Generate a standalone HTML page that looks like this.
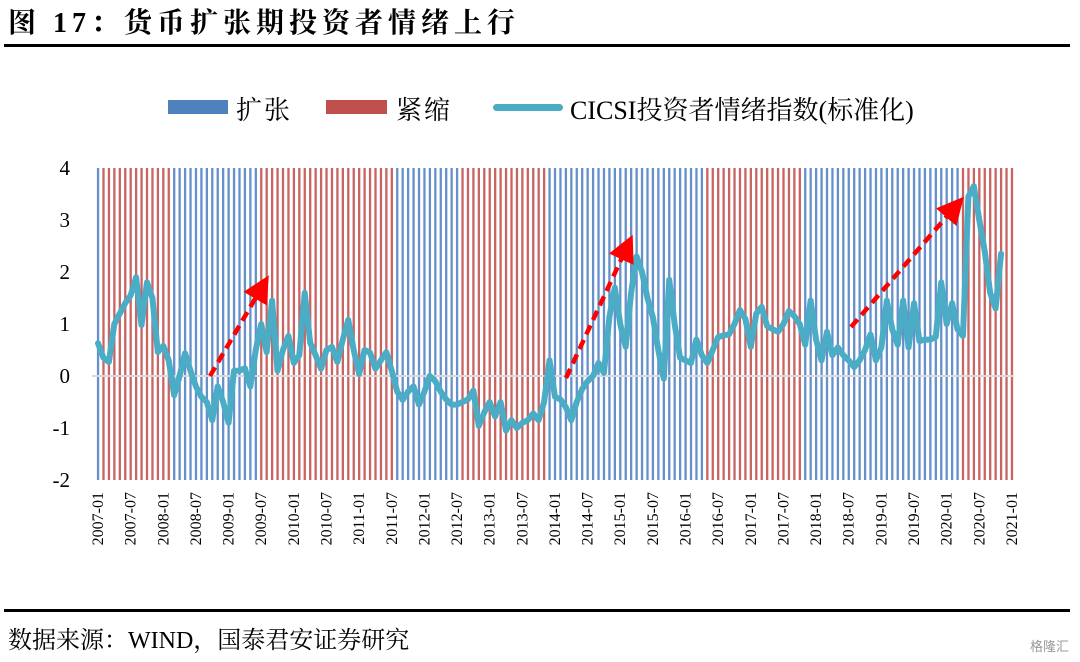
<!DOCTYPE html>
<html><head><meta charset="utf-8"><style>
body{margin:0;width:1080px;height:662px;background:#fff;overflow:hidden;position:relative;font-family:"Liberation Serif","Noto Serif CJK SC",serif;}
.abs{position:absolute;white-space:nowrap;}
</style></head><body>
<div class="abs" style="left:8px;top:1px;font-size:28px;font-weight:bold;letter-spacing:5px;">图 17：货币扩张期投资者情绪上行</div>
<div class="abs" style="left:4px;top:44px;width:1066px;height:3px;background:#000;"></div>
<div class="abs" style="left:168px;top:100px;width:60px;height:14px;background:#4f81bd;"></div>
<div class="abs" style="left:236px;top:90px;font-size:26px;letter-spacing:2px;">扩张</div>
<div class="abs" style="left:326px;top:100px;width:61px;height:14px;background:#c0504d;"></div>
<div class="abs" style="left:396px;top:90px;font-size:26px;letter-spacing:2px;">紧缩</div>
<div class="abs" style="left:493px;top:104px;width:70px;height:7px;border-radius:4px;background:#4bacc6;"></div>
<div class="abs" style="left:570px;top:90px;font-size:26px;">CICSI投资者情绪指数(标准化)</div>
<svg id="chart" class="abs" style="left:0;top:0" width="1080" height="600"></svg>
<div class="abs" style="left:4px;top:609px;width:1066px;height:3px;background:#000;"></div>
<div class="abs" style="left:8px;top:620px;font-size:24px;">数据来源：WIND，国泰君安证券研究</div>
<div class="abs" style="left:1030px;top:636px;font-size:13px;color:#999;font-family:'Liberation Sans','Noto Sans CJK SC',sans-serif;">格隆汇</div>
<script>
const cicsi=[0.63,0.35,0.27,1.0,1.2,1.4,1.55,1.9,0.98,1.8,1.5,0.46,0.58,0.3,-0.37,0.0,0.44,0.1,-0.2,-0.4,-0.5,-0.85,-0.2,-0.5,-0.9,0.1,0.1,0.15,-0.2,0.5,1.0,0.46,1.45,0.1,0.5,0.77,0.25,0.4,1.6,0.64,0.4,0.14,0.5,0.56,0.27,0.7,1.08,0.5,0.04,0.5,0.45,0.14,0.3,0.46,0.1,-0.3,-0.46,-0.3,-0.2,-0.55,-0.3,0.0,-0.1,-0.3,-0.45,-0.55,-0.55,-0.5,-0.45,-0.28,-0.96,-0.7,-0.5,-0.78,-0.5,-1.05,-0.85,-1.0,-0.9,-0.85,-0.72,-0.85,-0.5,0.3,-0.4,-0.45,-0.6,-0.85,-0.5,-0.25,-0.1,0.0,0.25,0.06,1.13,1.7,1.0,0.56,1.6,2.3,2.0,1.5,1.13,0.5,-0.05,1.85,1.0,0.35,0.3,0.25,0.7,0.4,0.25,0.5,0.75,0.78,0.8,1.0,1.27,1.1,0.56,1.2,1.33,0.96,0.9,0.85,1.0,1.25,1.15,1.0,0.6,1.45,0.7,0.3,0.85,0.4,0.55,0.4,0.3,0.17,0.3,0.5,0.8,0.3,0.55,1.45,0.9,0.6,1.45,0.55,1.4,0.67,0.7,0.7,0.75,1.8,1.0,1.4,0.9,0.77,3.45,3.65,3.0,2.4,1.6,1.3,2.35];
const regimeRuns=[["E",1],["C",13],["E",16],["C",25],["E",12],["C",16],["E",29],["C",18],["E",29],["C",10]];
const yTicks=[4,3,2,1,0,-1,-2];
const xTickLabels=["2007-01","2007-07","2008-01","2008-07","2009-01","2009-07","2010-01","2010-07","2011-01","2011-07","2012-01","2012-07","2013-01","2013-07","2014-01","2014-07","2015-01","2015-07","2016-01","2016-07","2017-01","2017-07","2018-01","2018-07","2019-01","2019-07","2020-01","2020-07","2021-01"];

const NS="http://www.w3.org/2000/svg";
const svg=document.getElementById('chart');
const X0=98,DX=5.44,Y0=376,DY=52;
const xs=i=>X0+i*DX;
const ys=v=>Y0-v*DY;
function mk(t,a){const e=document.createElementNS(NS,t);for(const k in a)e.setAttribute(k,a[k]);svg.appendChild(e);return e;}

let idx=0;
regimeRuns.forEach(r=>{for(let j=0;j<r[1];j++){
  const b=mk('rect',{x:xs(idx)-1.1,y:ys(4),width:2.3,height:ys(-2)-ys(4),fill:r[0]==="E"?"#6590ca":"#c86462"});
  
  
  idx++;}});
const ax=mk('line',{x1:xs(0)-6,x2:xs(168)+2,y1:ys(0),y2:ys(0),stroke:"#d9d9d9","stroke-width":2});


yTicks.forEach(v=>{const t=mk('text',{x:70,y:ys(v)+7,"text-anchor":"end","font-size":21,"font-family":"Liberation Serif, serif"});t.textContent=v;
  
  });
xTickLabels.forEach((s,k)=>{const x=xs(k*6)+5,y=492;const t=mk('text',{x:x,y:y,transform:`rotate(-90 ${x} ${y})`,"text-anchor":"end","font-size":16,"font-family":"Liberation Serif, serif"});t.textContent=s;
  
  });
const pl=mk('polyline',{points:cicsi.map((v,i)=>xs(i)+","+ys(v)).join(" "),fill:"none",stroke:"#4bacc6","stroke-width":6,"stroke-linejoin":"round","stroke-linecap":"round"});


const defs=mk('defs',{});
const m=document.createElementNS(NS,'marker');
[["id","ah"],["markerWidth","6"],["markerHeight","6"],["refX","3"],["refY","3"],["orient","auto"],["markerUnits","strokeWidth"]].forEach(p=>m.setAttribute(p[0],p[1]));
const mp=document.createElementNS(NS,'path');mp.setAttribute('d','M0,0 L6,3 L0,6 Z');mp.setAttribute('fill','#ff0000');m.appendChild(mp);defs.appendChild(m);
[[210,376,262,287],[566,378,627,247],[851,327,955,207]].forEach(a=>{
  const l=mk('line',{x1:a[0],y1:a[1],x2:a[2],y2:a[3],stroke:"#ff0000","stroke-width":4.5,"stroke-dasharray":"10 6","marker-end":"url(#ah)"});
  
  });
</script>
</body></html>
